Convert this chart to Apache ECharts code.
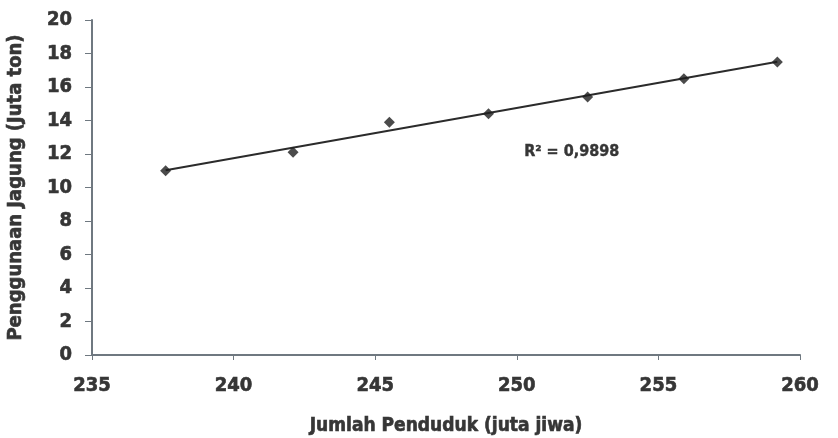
<!DOCTYPE html>
<html>
<head>
<meta charset="utf-8">
<script src="https://cdn.jsdelivr.net/npm/echarts@6/dist/echarts.min.js"></script>
<style>
  html, body { margin: 0; padding: 0; background: #fff; }
  #main { width: 838px; height: 438px; }
</style>
</head>
<body>
<div id="main"></div>
<script>
// data
const populasi = [237.6, 242.1, 245.5, 249.0, 252.5, 255.9, 259.2];
const jagung = [11.0, 12.1, 13.9, 14.4, 15.4, 16.5, 17.5];
// linear trendline endpoints as drawn
const trendX = [237.6, 259.2];
const trendY = [11.03, 17.51];
const r2Text = 'R² = 0,9898';

const chart = echarts.init(document.getElementById('main'));

// heavy condensed look of the scanned labels
const labelFont = {
  fontFamily: '"DejaVu Sans Condensed", "Liberation Sans Narrow", sans-serif',
  fontWeight: 'bold',
  color: '#363636',
  textBorderColor: '#363636',
  textBorderWidth: 0.6
};

chart.setOption({
  animation: false,
  backgroundColor: '#fff',
  grid: { left: 92, right: 38, top: 20, bottom: 83, outerBoundsMode: 'none' },
  xAxis: {
    type: 'value',
    min: 235, max: 260, interval: 5,
    name: 'Jumlah Penduduk (juta jiwa)',
    nameLocation: 'middle',
    nameGap: 62,
    nameTextStyle: Object.assign({ fontSize: 19 }, labelFont),
    axisLine: { lineStyle: { color: '#6f7880', width: 2 } },
    axisTick: { show: true, length: 5, lineStyle: { color: '#6f7880' } },
    axisLabel: Object.assign({ fontSize: 20, margin: 21 }, labelFont),
    splitLine: { show: false }
  },
  yAxis: {
    type: 'value',
    min: 0, max: 20, interval: 2,
    name: 'Penggunaan Jagung (Juta ton)',
    nameLocation: 'middle',
    nameGap: 66,
    nameTextStyle: Object.assign({ fontSize: 20 }, labelFont),
    axisLine: { show: true, lineStyle: { color: '#6f7880', width: 2 } },
    axisTick: { show: true, length: 7, lineStyle: { color: '#6f7880' } },
    axisLabel: Object.assign({ fontSize: 20, margin: 20 }, labelFont),
    splitLine: { show: false }
  },
  series: [
    {
      type: 'line',
      data: trendX.map((x, i) => [x, trendY[i]]),
      showSymbol: false,
      lineStyle: { color: '#2b2b2b', width: 2 },
      z: 2
    },
    {
      type: 'scatter',
      data: populasi.map((x, i) => [x, jagung[i]]),
      symbol: 'diamond',
      symbolSize: 11,
      itemStyle: { color: '#1e1e1e' },
      z: 3
    }
  ],
  graphic: [
    {
      type: 'text',
      left: 524,
      top: 144,
      style: {
        text: r2Text,
        font: 'bold 16px "DejaVu Sans Condensed", sans-serif',
        fill: '#363636',
        stroke: '#363636',
        lineWidth: 0.4
      }
    }
  ]
});
</script>
</body>
</html>
